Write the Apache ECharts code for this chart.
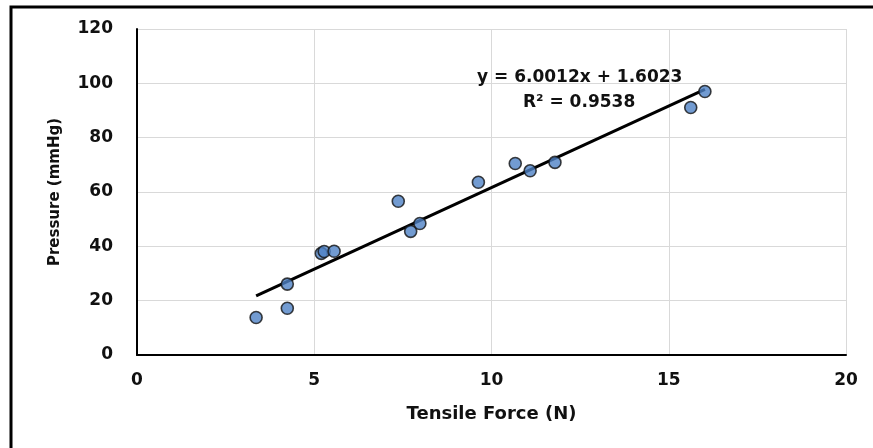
<!DOCTYPE html>
<html>
<head>
<meta charset="utf-8">
<title>Pressure vs Tensile Force</title>
<script src="https://cdn.jsdelivr.net/npm/echarts@6/dist/echarts.min.js"></script>
<style>
  html, body { margin: 0; padding: 0; background: #fff; }
  #chart { width: 873px; height: 448px; }
</style>
</head>
<body>
<div id="chart"></div>
<script>
// Measured tensile force (N) and corresponding pressure (mmHg)
const tensileForce = [3.36, 4.24, 4.24, 5.20, 5.28, 5.56, 7.37, 7.72, 7.98, 9.63, 10.67, 11.09, 11.79, 15.62, 16.02];
const pressure     = [13.8, 17.2, 26.1, 37.4, 38.1, 38.2, 56.6, 45.5, 48.4, 63.6, 70.5, 67.8, 70.9, 91.1, 97.0];

// Linear fit reported on the chart
const fitSlope = 6.0012;
const fitIntercept = 1.6023;
const fitR2 = 0.9538;

// Axis ranges
const xTicks = [0, 5, 10, 15, 20];
const yTicks = [0, 20, 40, 60, 80, 100, 120];

const FONT = 'DejaVu Sans';
const TEXT_COLOR = '#111';

const points = tensileForce.map((x, i) => [x, pressure[i]]);
const xMin = Math.min(...tensileForce);
const xMax = Math.max(...tensileForce);
const fitLine = [xMin, xMax].map(x => [x, fitSlope * x + fitIntercept]);

const chart = echarts.init(document.getElementById('chart'), null, { renderer: 'canvas' });

const option = {
  backgroundColor: '#fff',
  animation: false,
  grid: { left: 137, right: 27, top: 29, bottom: 93, containLabel: false },
  xAxis: {
    type: 'value',
    min: xTicks[0],
    max: xTicks[xTicks.length - 1],
    interval: xTicks[1] - xTicks[0],
    name: 'Tensile Force (N)',
    nameLocation: 'middle',
    nameGap: 50,
    nameTextStyle: { fontFamily: FONT, fontWeight: 'bold', fontSize: 18, color: TEXT_COLOR },
    axisLine: { show: true, lineStyle: { color: '#000', width: 2 } },
    axisTick: { show: false },
    axisLabel: { fontFamily: FONT, fontWeight: 'bold', fontSize: 17, color: TEXT_COLOR, margin: 17 },
    splitLine: { show: true, lineStyle: { color: '#d9d9d9', width: 1 } }
  },
  yAxis: {
    type: 'value',
    min: yTicks[0],
    max: yTicks[yTicks.length - 1],
    interval: yTicks[1] - yTicks[0],
    name: 'Pressure (mmHg)',
    nameLocation: 'middle',
    nameGap: 74,
    nameTextStyle: { fontFamily: FONT, fontWeight: 'bold', fontSize: 15, color: TEXT_COLOR },
    axisLine: { show: true, lineStyle: { color: '#000', width: 2 } },
    axisTick: { show: false },
    axisLabel: { fontFamily: FONT, fontWeight: 'bold', fontSize: 17, color: TEXT_COLOR, margin: 24 },
    splitLine: { show: true, lineStyle: { color: '#d9d9d9', width: 1 } }
  },
  series: [
    {
      name: 'Linear fit',
      type: 'line',
      data: fitLine,
      symbol: 'none',
      lineStyle: { color: '#000', width: 3 },
      z: 2
    },
    {
      name: 'Measurements',
      type: 'scatter',
      data: points,
      symbol: 'circle',
      symbolSize: 12,
      itemStyle: { color: '#4f82c6', borderColor: '#111', borderWidth: 1.6 },
      z: 3
    }
  ],
  graphic: [
    {
      type: 'text',
      left: 477,
      top: 69,
      style: {
        text: 'y = ' + fitSlope.toFixed(4) + 'x + ' + fitIntercept.toFixed(4),
        fontFamily: FONT, fontWeight: 'bold', fontSize: 17, fill: TEXT_COLOR
      },
      z: 10
    },
    {
      type: 'text',
      left: 523,
      top: 94,
      style: {
        text: 'R² = ' + fitR2.toFixed(4),
        fontFamily: FONT, fontWeight: 'bold', fontSize: 17, fill: TEXT_COLOR
      },
      z: 10
    },
    {
      type: 'polyline',
      shape: { points: [[11, 448], [11, 7], [873, 7]] },
      style: { stroke: '#000', lineWidth: 3, fill: null },
      z: 10
    }
  ]
};

chart.setOption(option);
</script>
</body>
</html>
